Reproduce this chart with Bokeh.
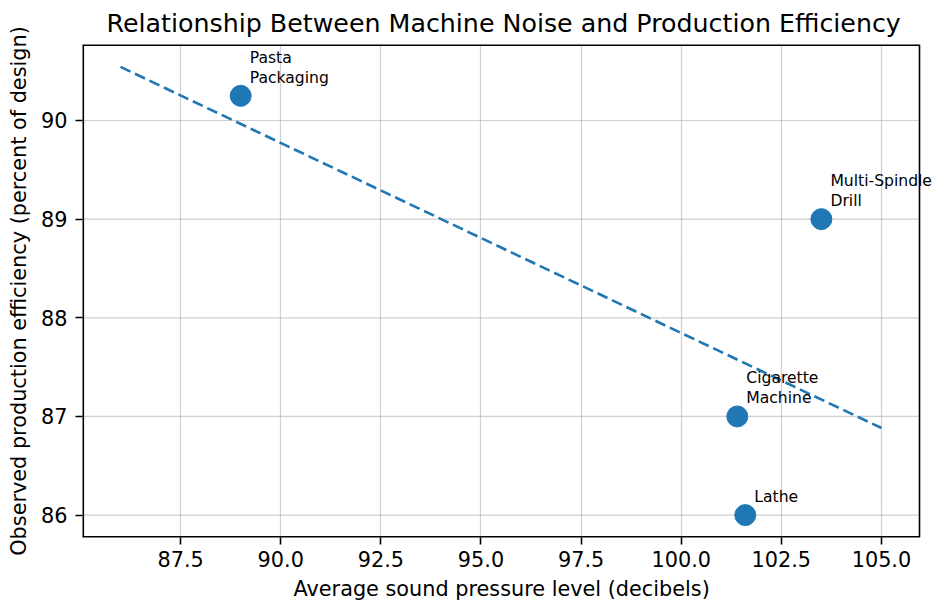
import numpy as np
from bokeh.plotting import figure
from bokeh.models import Range1d, FixedTicker, Label, Title
from bokeh.embed import file_html
from bokeh.resources import INLINE

# ---- data ----
machines = ["Pasta\nPackaging", "Multi-Spindle\nDrill", "Cigarette\nMachine", "Lathe"]
noise_db = [89.0, 103.5, 101.4, 101.6]
efficiency_pct = [90.25, 89.0, 87.0, 86.0]
trend_x_ends = [86.0, 105.0]
x_ticks = [87.5, 90.0, 92.5, 95.0, 97.5, 100.0, 102.5, 105.0]
x_tick_labels = ["87.5", "90.0", "92.5", "95.0", "97.5", "100.0", "102.5", "105.0"]
y_ticks = [86, 87, 88, 89, 90]

# least-squares trend line through the points
slope, intercept = np.polyfit(noise_db, efficiency_pct, 1)
trend_y = [slope * xx + intercept for xx in trend_x_ends]

# matplotlib-like 5% margins
all_x = list(noise_db) + trend_x_ends
all_y = list(efficiency_pct) + trend_y
xmin, xmax = min(all_x), max(all_x)
ymin, ymax = min(all_y), max(all_y)
xpad = 0.05 * (xmax - xmin)
ypad = 0.05 * (ymax - ymin)
xlo, xhi = xmin - xpad, xmax + xpad
ylo, yhi = ymin - ypad, ymax + ypad

FONT = "DejaVu Sans"
BLUE = "#1f77b4"

# axes box is 837px wide; the drawing area is extended to the right so the
# point labels may overflow the box (as annotations do in the original)
BOX_W, EXT_W = 837, 858
xhi_ext = xlo + (xhi - xlo) * EXT_W / BOX_W

p = figure(frame_width=EXT_W, frame_height=493, output_backend="svg", toolbar_location=None,
           x_range=Range1d(xlo, xhi_ext), y_range=Range1d(ylo, yhi),
           title="Relationship Between Machine Noise and Production Efficiency",
           min_border_left=82, min_border_right=0, min_border_top=44, min_border_bottom=30)

p.title.text_font = FONT
p.title.text_font_size = "25.3px"
p.title.text_font_style = "normal"
p.title.align = "left"
p.title.offset = 24
p.title.text_color = "black"
p.title.standoff = 13

p.outline_line_color = None
p.background_fill_color = "white"
p.border_fill_color = "white"

for ax in (p.xaxis[0], p.yaxis[0]):
    ax.axis_line_color = None
    ax.major_tick_line_color = "black"
    ax.major_tick_line_width = 1.6
    ax.major_tick_out = 7
    ax.major_tick_in = 0
    ax.minor_tick_line_color = None
    ax.major_label_text_font = FONT
    ax.major_label_text_font_size = "20.8px"
    ax.major_label_text_color = "black"
    ax.axis_label_text_font = FONT
    ax.axis_label_text_font_size = "20.8px"
    ax.axis_label_text_font_style = "normal"
    ax.axis_label_text_color = "black"

p.xaxis.ticker = FixedTicker(ticks=x_ticks)
p.xaxis.major_label_overrides = {t: l for t, l in zip(x_ticks, x_tick_labels)}
p.yaxis.ticker = FixedTicker(ticks=y_ticks)
p.yaxis.axis_label = "Observed production efficiency (percent of design)"
p.xaxis.major_label_standoff = 6
p.yaxis.major_label_standoff = 8
p.yaxis.axis_label_standoff = 7

# x-axis label, centred under the axes box rather than the extended area
p.add_layout(Title(text="Average sound pressure level (decibels)", align="left", offset=211,
                   text_font=FONT, text_font_size="20.8px", text_font_style="normal",
                   text_color="black", standoff=10), "below")

# grid: vertical lines from the grid, horizontal ones stop at the box edge
p.xgrid.ticker = FixedTicker(ticks=x_ticks)
p.xgrid.grid_line_color = "#b0b0b0"
p.xgrid.grid_line_alpha = 0.6
p.xgrid.grid_line_width = 1.2
p.ygrid.grid_line_color = None
p.segment(x0=[xlo] * len(y_ticks), x1=[xhi] * len(y_ticks), y0=y_ticks, y1=y_ticks,
          line_color="#b0b0b0", line_alpha=0.6, line_width=1.2, level="underlay")

# axes box (spines)
p.segment(x0=[xlo, xlo, xlo], x1=[xlo, xhi, xhi], y0=[ylo, ylo, yhi], y1=[yhi, ylo, yhi],
          line_color="black", line_width=3.2)
p.segment(x0=[xhi], x1=[xhi], y0=[ylo], y1=[yhi], line_color="black", line_width=1.6)

p.line(trend_x_ends, trend_y, line_color=BLUE, line_width=2.6, line_dash="11 5")
p.scatter(noise_db, efficiency_pct, size=21, fill_color=BLUE, line_color=BLUE)
for name, xx, yy in zip(machines, noise_db, efficiency_pct):
    p.add_layout(Label(x=xx, y=yy, text=name, x_offset=9, y_offset=9,
                       text_align="left", text_baseline="bottom", text_line_height=1.12,
                       text_font=FONT, text_font_size="15.6px", text_color="black"))

open("out.html", "w").write(file_html(p, INLINE))
